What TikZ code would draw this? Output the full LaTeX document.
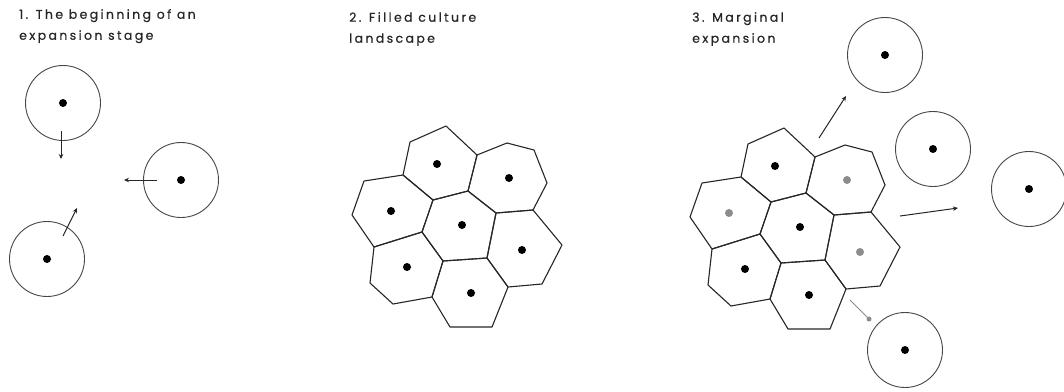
\documentclass[tikz,border=0pt]{standalone}
\usepackage{fontspec}
\setmainfont{Poppins}[LetterSpace=19,FakeBold=0.6]
\usetikzlibrary{arrows.meta}
\newcommand\hexcluster[2]{% #1 prefix, #2 style of gray-able dots
  \coordinate (#1a) at (446,126);
  \coordinate (#1b) at (410,142);
  \coordinate (#1c) at (403,175);
  \coordinate (#1d) at (433,200);
  \coordinate (#1e) at (477,155);
  \coordinate (#1f) at (468,191);
  \coordinate (#1g) at (496,213);
  \coordinate (#1h) at (487,258);
  \coordinate (#1i) at (443,261);
  \coordinate (#1j) at (422,232);
  \coordinate (#1k) at (364,181);
  \coordinate (#1l) at (352,215);
  \coordinate (#1m) at (374,247);
  \coordinate (#1n) at (507,143);
  \coordinate (#1o) at (534,150);
  \coordinate (#1p) at (547,183);
  \coordinate (#1q) at (533,210);
  \coordinate (#1r) at (562,245);
  \coordinate (#1s) at (542,284);
  \coordinate (#1t) at (508,287);
  \coordinate (#1u) at (492,327);
  \coordinate (#1v) at (450,327);
  \coordinate (#1w) at (432,297);
  \coordinate (#1y) at (393,304);
  \coordinate (#1z) at (370,283);
  \draw[hexline] (#1b)--(#1a)--(#1e)--(#1f)--(#1d)--(#1c)--cycle;
  \draw[hexline] (#1e)--(#1n)--(#1o)--(#1p)--(#1q)--(#1g)--(#1f)--cycle;
  \draw[hexline] (#1k)--(#1c)--(#1d)--(#1j)--(#1m)--(#1l)--cycle;
  \draw[hexline] (#1d)--(#1f)--(#1g)--(#1h)--(#1i)--(#1j)--cycle;
  \draw[hexline] (#1g)--(#1q)--(#1r)--(#1s)--(#1t)--(#1h)--cycle;
  \draw[hexline] (#1m)--(#1j)--(#1i)--(#1w)--(#1y)--(#1z)--cycle;
  \draw[hexline] (#1i)--(#1h)--(#1t)--(#1u)--(#1v)--(#1w)--cycle;
  \node[dot] (#1d1) at (437,164) {};
  \node[#2] (#1d2) at (509,178) {};
  \node[#2] (#1d3) at (391,211) {};
  \node[dot] (#1d4) at (462,225) {};
  \node[#2] (#1d5) at (522,250) {};
  \node[dot] (#1d6) at (407,267) {};
  \node[dot] (#1d7) at (471,293) {};
}
\begin{document}
\begin{tikzpicture}[x=1pt,y=-1pt,
  ring/.style={circle,draw=black!72,line width=0.9pt,minimum size=75pt,inner sep=0pt},
  dot/.style={circle,fill=black,minimum size=8pt,inner sep=0pt},
  graydot/.style={circle,fill=black!45,minimum size=8pt,inner sep=0pt},
  hexline/.style={draw=black!85,line width=1.1pt,line join=round},
  arr/.style={draw=black!85,line width=1pt,-{Stealth[length=5pt,width=4.5pt]}},
  grayarr/.style={draw=black!45,line width=1pt},
  title/.style={anchor=north west,align=left,inner sep=0pt,text=black!85,
    font=\fontsize{12.5}{21}\selectfont}]
\useasboundingbox (0,0) rectangle (1064,391);
% titles
\node[title] (t1) at (19,9) {1. The beginning of an\\expansion stage};
\node[title] (t2) at (349,12) {2. Filled culture\\landscape};
\node[title] (t3) at (692,12) {3. Marginal\\expansion};
% panel 1
\node[ring] (c1) at (63,103) {};
\node[dot] (c1d) at (63,103) {};
\node[ring] (c2) at (181,180) {};
\node[dot] (c2d) at (181,180) {};
\node[ring] (c3) at (47,259) {};
\node[dot] (c3d) at (47,259) {};
\coordinate (a1s) at (61,131);
\coordinate (a1e) at (61,159);
\coordinate (a2s) at (157,180);
\coordinate (a2e) at (124,180);
\coordinate (a3s) at (63,236);
\coordinate (a3e) at (77,208);
\draw[arr] (a1s) -- (a1e);
\draw[arr] (a2s) -- (a2e);
\draw[arr] (a3s) -- (a3e);
% panel 2
\hexcluster{p}{dot}
% panel 3
\begin{scope}[shift={(338,2)}]
\hexcluster{q}{graydot}
\end{scope}
\node[ring] (e1) at (885,55) {};
\node[dot] (e1d) at (885,55) {};
\node[ring] (e2) at (933,149) {};
\node[dot] (e2d) at (933,149) {};
\node[ring] (e3) at (1029,189) {};
\node[dot] (e3d) at (1029,189) {};
\node[ring] (e4) at (905,350) {};
\node[dot] (e4d) at (905,350) {};
\coordinate (b1s) at (819,138);
\coordinate (b1e) at (846,96);
\coordinate (b2s) at (900,216);
\coordinate (b2e) at (958,208);
\coordinate (b3s) at (850,300);
\coordinate (b3e) at (869,319);
\draw[arr] (b1s) -- (b1e);
\draw[arr] (b2s) -- (b2e);
\draw[grayarr] (b3s) -- (b3e);
\node[graydot,minimum size=5pt] (b3d) at (b3e) {};
\end{tikzpicture}
\end{document}
